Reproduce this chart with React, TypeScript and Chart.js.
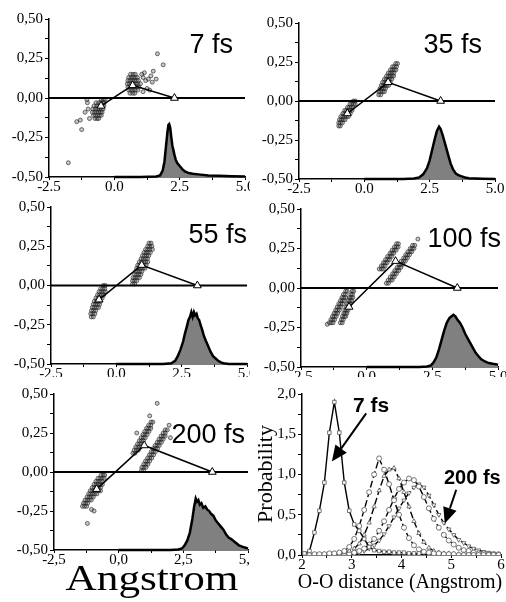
import React, { useEffect, useRef } from "react";
import { Chart, registerables } from "chart.js";
Chart.register(...registerables);

type Pt = [number, number];
// cluster rows: [y, x1, x2, ...]
type Row = number[];

// ---------- Panel 1: 7 fs ----------
const p1Label = "7 fs";
const p1Triangles: Pt[] = [[-0.51, -0.05], [0.7, 0.08], [2.3, 0.0]];
const p1ClusterA: Row[] = [
  [-0.01, -0.5, -0.42, -0.36],
  [-0.03, -0.7, -0.6, -0.52, -0.44, -0.38],
  [-0.05, -0.78, -0.68, -0.6, -0.53, -0.46, -0.4],
  [-0.07, -0.82, -0.72, -0.64, -0.57, -0.5, -0.43],
  [-0.09, -0.84, -0.75, -0.67, -0.6, -0.53, -0.47],
  [-0.11, -0.8, -0.72, -0.64, -0.57, -0.5],
  [-0.13, -0.74, -0.66, -0.6],
  [-0.07, -1.0], [-0.01, -1.05], [-0.13, -0.95], [-0.09, -1.12], [-0.14, -1.3], [-0.15, -1.44], [-0.2, -1.25], [-0.41, -1.76], [-0.03, -1.03],
];
const p1ClusterB: Row[] = [
  [0.15, 0.62, 0.72, 0.8],
  [0.13, 0.55, 0.64, 0.72, 0.8, 0.88],
  [0.11, 0.52, 0.6, 0.68, 0.76, 0.84, 0.92],
  [0.09, 0.5, 0.58, 0.66, 0.74, 0.82, 0.9, 1.0],
  [0.07, 0.52, 0.6, 0.68, 0.76, 0.84, 0.94],
  [0.05, 0.55, 0.63, 0.71, 0.8, 0.9],
  [0.03, 0.6, 0.7, 0.78],
  [0.13, 1.1], [0.11, 1.2], [0.12, 1.3], [0.05, 1.35], [0.1, 1.45], [0.17, 1.49], [0.12, 1.6], [0.28, 1.65], [0.21, 1.87], [0.16, 1.15], [0.06, 1.25], [0.15, 1.05], [0.14, 1.4], [0.04, 1.1],
];
const p1DistX = [0, 1.0, 1.6, 1.75, 1.85, 1.92, 1.98, 2.03, 2.07, 2.1, 2.14, 2.18, 2.22, 2.26, 2.3, 2.35, 2.4, 2.5, 2.6, 2.7, 2.85, 3.0, 3.3, 3.6, 4.0, 4.5, 5.0];
const p1DistY = [-0.5, -0.5, -0.497, -0.49, -0.46, -0.4, -0.3, -0.22, -0.17, -0.165, -0.19, -0.25, -0.3, -0.33, -0.36, -0.39, -0.41, -0.43, -0.45, -0.465, -0.475, -0.48, -0.485, -0.49, -0.492, -0.495, -0.497];

// ---------- Panel 2: 35 fs ----------
const p2Label = "35 fs";
const p2Triangles: Pt[] = [[-0.65, -0.08], [0.91, 0.12], [2.92, 0.0]];
const p2ClusterA: Row[] = [
  [0.0, -0.42, -0.34],
  [-0.02, -0.55, -0.48, -0.41, -0.35],
  [-0.04, -0.64, -0.57, -0.5, -0.43],
  [-0.06, -0.75, -0.68, -0.61, -0.54, -0.47],
  [-0.08, -0.82, -0.75, -0.68, -0.61, -0.54],
  [-0.1, -0.9, -0.82, -0.75, -0.68, -0.61],
  [-0.12, -0.95, -0.88, -0.81, -0.74],
  [-0.14, -0.98, -0.91, -0.84],
  [-0.16, -0.98, -0.92],
];
const p2ClusterB: Row[] = [
  [0.04, 0.55, 0.63],
  [0.06, 0.56, 0.63, 0.7, 0.77],
  [0.08, 0.6, 0.67, 0.74, 0.81],
  [0.1, 0.65, 0.72, 0.79, 0.86, 0.93],
  [0.12, 0.7, 0.78, 0.85, 0.92, 0.99],
  [0.14, 0.77, 0.84, 0.91, 0.98, 1.05],
  [0.16, 0.85, 0.92, 0.99, 1.06, 1.12],
  [0.18, 0.92, 0.99, 1.06, 1.13],
  [0.2, 1.0, 1.07, 1.14, 1.21],
  [0.22, 1.08, 1.15, 1.23],
  [0.24, 1.2, 1.27],
];
const p2DistX = [0, 1.5, 1.9, 2.1, 2.25, 2.4, 2.5, 2.6, 2.7, 2.78, 2.86, 2.92, 3.0, 3.1, 3.2, 3.3, 3.4, 3.5, 3.6, 3.7, 3.85, 4.0, 4.5, 5.0];
const p2DistY = [-0.5, -0.5, -0.497, -0.49, -0.47, -0.43, -0.38, -0.31, -0.24, -0.19, -0.165, -0.18, -0.22, -0.28, -0.34, -0.4, -0.44, -0.465, -0.475, -0.482, -0.49, -0.495, -0.498, -0.5];

// ---------- Panel 3: 55 fs ----------
const p3Label = "55 fs";
const p3Triangles: Pt[] = [[-0.66, -0.09], [0.97, 0.13], [3.1, 0.0]];
const p3ClusterA: Row[] = [
  [0.0, -0.5, -0.42],
  [-0.02, -0.6, -0.52, -0.44],
  [-0.04, -0.66, -0.58, -0.5, -0.42],
  [-0.06, -0.72, -0.64, -0.56, -0.48],
  [-0.08, -0.78, -0.7, -0.62, -0.54],
  [-0.1, -0.84, -0.76, -0.68, -0.6],
  [-0.12, -0.88, -0.8, -0.72, -0.64],
  [-0.14, -0.92, -0.84, -0.76, -0.68],
  [-0.16, -0.95, -0.87, -0.79],
  [-0.18, -0.98, -0.9, -0.82],
  [-0.2, -0.96, -0.88],
];
const p3ClusterB: Row[] = [
  [0.01, 0.62, 0.7],
  [0.03, 0.62, 0.7, 0.78],
  [0.05, 0.64, 0.72, 0.8, 0.88],
  [0.07, 0.7, 0.78, 0.86, 0.94],
  [0.09, 0.74, 0.82, 0.9, 0.98],
  [0.11, 0.78, 0.86, 0.94, 1.02, 1.1],
  [0.13, 0.82, 0.9, 0.98, 1.06, 1.14],
  [0.15, 0.88, 0.96, 1.04, 1.12, 1.2],
  [0.17, 0.95, 1.03, 1.11, 1.19],
  [0.19, 1.0, 1.08, 1.16, 1.24],
  [0.21, 1.06, 1.14, 1.22, 1.3],
  [0.23, 1.12, 1.2, 1.28, 1.38],
  [0.25, 1.2, 1.28, 1.36],
  [0.27, 1.25, 1.33],
];
const p3DistX = [0, 1.8, 2.1, 2.25, 2.35, 2.45, 2.55, 2.62, 2.7, 2.76, 2.82, 2.87, 2.92, 2.97, 3.02, 3.07, 3.12, 3.17, 3.22, 3.28, 3.35, 3.42, 3.5, 3.6, 3.7, 3.8, 3.9, 4.0, 4.1, 4.3, 5.0];
const p3DistY = [-0.5, -0.5, -0.495, -0.48, -0.45, -0.41, -0.36, -0.31, -0.26, -0.22, -0.2, -0.17, -0.2, -0.17, -0.19, -0.18, -0.21, -0.22, -0.25, -0.28, -0.32, -0.35, -0.38, -0.42, -0.45, -0.465, -0.48, -0.49, -0.495, -0.5, -0.5];

// ---------- Panel 4: 100 fs ----------
const p4Label = "100 fs";
const p4Triangles: Pt[] = [[-0.67, -0.12], [1.1, 0.17], [3.45, 0.0]];
const p4ClusterA: Row[] = [
  [-0.22, -1.42, -1.35, -1.28, -1.0, -0.93],
  [-0.2, -1.36, -1.29, -1.22, -0.96, -0.89],
  [-0.18, -1.3, -1.23, -1.16, -0.92, -0.85, -0.8],
  [-0.16, -1.24, -1.17, -1.1, -0.87, -0.81, -0.75],
  [-0.14, -1.18, -1.11, -1.04, -0.83, -0.77, -0.71],
  [-0.12, -1.12, -1.05, -0.98, -0.78, -0.72, -0.66],
  [-0.1, -1.06, -0.99, -0.92, -0.74, -0.68, -0.62],
  [-0.08, -1.0, -0.93, -0.86, -0.69, -0.63, -0.57],
  [-0.06, -0.94, -0.87, -0.8, -0.65, -0.59, -0.53],
  [-0.04, -0.88, -0.81, -0.6, -0.54],
  [-0.02, -0.8, -0.74, -0.55, -0.49],
  [-0.23, -1.5],
];
const p4ClusterB: Row[] = [
  [0.12, 0.48, 0.56, 0.63],
  [0.14, 0.56, 0.63, 0.7],
  [0.16, 0.64, 0.71, 0.78],
  [0.18, 0.72, 0.8, 0.87],
  [0.2, 0.8, 0.88, 0.95],
  [0.22, 0.89, 0.96, 1.03],
  [0.24, 0.97, 1.05, 1.12],
  [0.26, 1.06, 1.13, 1.2],
  [0.28, 1.14, 1.21],
  [0.03, 0.75, 0.83],
  [0.05, 0.82, 0.9, 0.97],
  [0.07, 0.9, 0.98, 1.05],
  [0.09, 0.99, 1.06, 1.13],
  [0.11, 1.07, 1.15, 1.22],
  [0.13, 1.16, 1.23, 1.3],
  [0.15, 1.24, 1.31, 1.38],
  [0.17, 1.32, 1.4, 1.47],
  [0.19, 1.41, 1.48, 1.55],
  [0.21, 1.49, 1.56, 1.63],
  [0.23, 1.57, 1.65, 1.72],
  [0.25, 1.66, 1.73, 1.8],
  [0.27, 1.75, 1.83],
  [0.31, 1.95],
];
const p4DistX = [0, 2.0, 2.3, 2.45, 2.55, 2.65, 2.75, 2.85, 2.95, 3.05, 3.15, 3.22, 3.3, 3.38, 3.45, 3.55, 3.65, 3.75, 3.85, 3.95, 4.05, 4.15, 4.25, 4.35, 4.5, 4.65, 4.8, 5.0];
const p4DistY = [-0.5, -0.5, -0.497, -0.49, -0.47, -0.44, -0.39, -0.33, -0.27, -0.22, -0.19, -0.18, -0.17, -0.18, -0.2, -0.22, -0.25, -0.29, -0.32, -0.35, -0.38, -0.41, -0.43, -0.45, -0.465, -0.475, -0.48, -0.485];

// ---------- Panel 5: 200 fs ----------
const p5Label = "200 fs";
const p5Triangles: Pt[] = [[-0.85, -0.11], [0.99, 0.17], [3.62, 0.0]];
const p5ClusterA: Row[] = [
  [-0.02, -0.68, -0.6, -0.54],
  [-0.04, -0.8, -0.72, -0.64, -0.56],
  [-0.06, -0.88, -0.8, -0.72, -0.64],
  [-0.08, -0.95, -0.87, -0.79, -0.71, -0.63],
  [-0.1, -1.02, -0.94, -0.86, -0.78, -0.7],
  [-0.12, -1.1, -1.02, -0.94, -0.86, -0.78],
  [-0.14, -1.16, -1.08, -1.0, -0.92, -0.84],
  [-0.16, -1.22, -1.14, -1.06, -0.98],
  [-0.18, -1.3, -1.22, -1.14, -1.06],
  [-0.2, -1.36, -1.28, -1.2],
  [-0.22, -1.4, -1.32, -1.24],
  [-0.33, -1.21], [-0.25, -0.95], [-0.24, -1.05], [-0.12, -0.7],
];
const p5ClusterB: Row[] = [
  [0.12, 0.55, 0.63],
  [0.14, 0.6, 0.68, 0.76],
  [0.16, 0.66, 0.74, 0.82],
  [0.18, 0.73, 0.81, 0.89],
  [0.2, 0.8, 0.88, 0.96],
  [0.22, 0.87, 0.95, 1.03],
  [0.24, 0.94, 1.02, 1.1],
  [0.26, 1.01, 1.09, 1.17],
  [0.28, 1.08, 1.16, 1.24],
  [0.3, 1.16, 1.24],
  [0.32, 1.25, 1.32],
  [0.01, 0.88, 0.96],
  [0.03, 0.9, 0.98, 1.06],
  [0.05, 0.97, 1.05, 1.13],
  [0.07, 1.04, 1.12, 1.2],
  [0.09, 1.12, 1.2, 1.28],
  [0.11, 1.19, 1.27, 1.35],
  [0.13, 1.26, 1.34, 1.42],
  [0.15, 1.34, 1.42, 1.5],
  [0.17, 1.41, 1.49, 1.57],
  [0.19, 1.49, 1.57, 1.65],
  [0.21, 1.56, 1.64, 1.72],
  [0.23, 1.64, 1.72, 1.8],
  [0.25, 1.72, 1.8],
  [0.27, 1.8, 1.88],
  [0.44, 1.49], [0.22, 2.0], [0.3, 1.95], [0.36, 1.2], [0.25, 0.7],
];
const p5DistX = [0, 2.0, 2.3, 2.45, 2.55, 2.65, 2.75, 2.85, 2.92, 2.98, 3.03, 3.08, 3.14, 3.2, 3.27, 3.35, 3.42, 3.5, 3.58, 3.66, 3.75, 3.85, 3.95, 4.05, 4.15, 4.25, 4.35, 4.5, 4.65, 4.8, 5.0];
const p5DistY = [-0.5, -0.5, -0.497, -0.49, -0.47, -0.44, -0.39, -0.3, -0.22, -0.17, -0.19, -0.18, -0.21, -0.2, -0.23, -0.22, -0.24, -0.25, -0.27, -0.28, -0.31, -0.33, -0.35, -0.37, -0.4, -0.42, -0.43, -0.45, -0.47, -0.48, -0.49];

// ---------- Panel 6: O-O distance probability ----------
const probX = [2.05,2.15,2.25,2.35,2.45,2.55,2.65,2.75,2.85,2.95,3.05,3.15,3.25,3.35,3.45,3.55,3.65,3.75,3.85,3.95,4.05,4.15,4.25,4.35,4.45,4.55,4.65,4.75,4.85,4.95,5.05,5.15,5.25,5.35,5.45,5.55,5.65,5.75,5.85,5.95];
const prob7fs = [0.02,0.05,0.28,0.55,0.9,1.52,1.9,1.52,0.9,0.55,0.38,0.3,0.2,0.1,0.06,0.05,0.04,0.04,0.03,0.03,0.03,0.02,0.02,0.02];
const prob35fs = [0,0,0.01,0.01,0.01,0.02,0.02,0.03,0.05,0.1,0.2,0.36,0.56,0.78,1.0,1.2,1.06,0.88,0.68,0.5,0.34,0.21,0.12,0.07,0.04,0.03,0.02,0.02,0.01,0.01,0.01,0,0,0,0,0,0,0,0,0];
const prob55fs = [0,0,0,0,0.01,0.01,0.01,0.02,0.03,0.05,0.08,0.14,0.25,0.4,0.6,0.8,0.98,1.06,1.08,0.95,0.78,0.6,0.42,0.27,0.16,0.09,0.05,0.03,0.02,0.02,0.01,0.01,0.01,0,0,0,0,0,0,0];
const prob100fs = [0,0,0,0,0,0,0.01,0.01,0.01,0.02,0.03,0.05,0.08,0.13,0.2,0.3,0.42,0.56,0.7,0.82,0.9,0.95,0.93,0.85,0.72,0.58,0.45,0.34,0.25,0.18,0.13,0.09,0.06,0.05,0.03,0.02,0.02,0.01,0.01,0.01];
const prob200fs = [0,0,0,0,0,0,0,0.01,0.01,0.01,0.02,0.03,0.05,0.08,0.12,0.18,0.26,0.36,0.47,0.58,0.68,0.77,0.84,0.88,0.84,0.74,0.62,0.5,0.4,0.32,0.25,0.19,0.15,0.11,0.08,0.06,0.04,0.03,0.02,0.01];
const probTickX = [2, 3, 4, 5, 6];

// ---------- layout (page coordinates) ----------
type Layout = { left: number; top: number; width: number; height: number; ca: [number, number, number, number] };
type TextItem = { text: string; x: number; y: number; font: string; align?: CanvasTextAlign; baseline?: CanvasTextBaseline; rotate?: number; sx?: number };
type Arrow = { from: Pt; to: Pt };

const L1: Layout = { left: 0, top: 0, width: 280, height: 200, ca: [49, 19, 245, 177] };
const L2: Layout = { left: 250, top: 0, width: 280, height: 200, ca: [299, 23, 495, 179] };
const L3: Layout = { left: 0, top: 195, width: 280, height: 205, ca: [51, 207, 247, 364] };
const L4: Layout = { left: 250, top: 195, width: 280, height: 205, ca: [301, 209, 498, 367] };
const L5: Layout = { left: 0, top: 377, width: 280, height: 225, ca: [54, 394, 248, 550] };
const L6: Layout = { left: 250, top: 377, width: 280, height: 225, ca: [302, 394, 501, 555] };

const SERIF = "'Liberation Serif', 'Times New Roman', serif";
const SANS = "'Liberation Sans', Arial, sans-serif";

function overlayPlugin(layout: Layout, texts: TextItem[], arrows: Arrow[] = []) {
  return {
    id: "overlay",
    afterDraw(chart: any) {
      const ctx: CanvasRenderingContext2D = chart.ctx;
      ctx.save();
      for (const t of texts) {
        ctx.save();
        ctx.translate(t.x - layout.left, t.y - layout.top);
        if (t.rotate) ctx.rotate(t.rotate);
        if (t.sx) ctx.scale(t.sx, 1);
        ctx.font = t.font;
        ctx.fillStyle = "#000";
        ctx.textAlign = t.align || "left";
        ctx.textBaseline = t.baseline || "alphabetic";
        ctx.fillText(t.text, 0, 0);
        ctx.restore();
      }
      const xs = chart.scales.x, ys = chart.scales.y;
      for (const a of arrows) {
        const x1 = xs.getPixelForValue(a.from[0]), y1 = ys.getPixelForValue(a.from[1]);
        const x2 = xs.getPixelForValue(a.to[0]), y2 = ys.getPixelForValue(a.to[1]);
        const ang = Math.atan2(y2 - y1, x2 - x1);
        const head = 16, half = 7;
        const bx = x2 - head * Math.cos(ang), by = y2 - head * Math.sin(ang);
        ctx.strokeStyle = "#000";
        ctx.lineWidth = 2;
        ctx.beginPath();
        ctx.moveTo(x1, y1);
        ctx.lineTo(bx, by);
        ctx.stroke();
        ctx.fillStyle = "#000";
        ctx.beginPath();
        ctx.moveTo(x2, y2);
        ctx.lineTo(bx + half * Math.sin(ang), by - half * Math.cos(ang));
        ctx.lineTo(bx - half * Math.sin(ang), by + half * Math.cos(ang));
        ctx.closePath();
        ctx.fill();
      }
      ctx.restore();
    },
  };
}

function baseOptions(layout: Layout, x: any, y: any) {
  const [caL, caT, caR, caB] = layout.ca;
  const yW = caL - layout.left;
  const xH = layout.top + layout.height - caB;
  const tickFont = { family: SERIF, size: 15 };
  return {
    responsive: false,
    animation: false,
    events: [],
    layout: { padding: { left: 0, top: caT - layout.top, right: layout.left + layout.width - caR, bottom: 0 } },
    plugins: { legend: { display: false }, tooltip: { enabled: false } },
    scales: {
      x: {
        type: "linear",
        ...x,
        afterFit: (s: any) => { s.height = xH; },
        border: { display: true, color: "#000", width: 1.5 },
        grid: { display: true, drawOnChartArea: false, drawTicks: true, tickLength: 3, tickColor: "#000", tickWidth: 1 },
        ticks: { ...x.ticks, font: tickFont, color: "#000", padding: -2, autoSkip: false, maxRotation: 0 },
      },
      y: {
        type: "linear",
        ...y,
        afterFit: (s: any) => { s.width = yW; },
        border: { display: true, color: "#000", width: 1.5 },
        grid: { display: true, drawOnChartArea: false, drawTicks: true, tickLength: 4, tickColor: "#000", tickWidth: 1 },
        ticks: { ...y.ticks, font: tickFont, color: "#000", padding: 2, autoSkip: false },
      },
    },
  };
}

const toPts = (arr: Pt[]) => arr.map(([x, y]) => ({ x, y }));
const rowsToPts = (rows: Row[]) => rows.flatMap(([y, ...xs]) => xs.map((x) => ({ x, y })));
const zip = (xs: number[], ys: number[]) => ys.map((y, i) => ({ x: xs[i], y }));
const isMult = (v: number, m: number) => Math.abs(v / m - Math.round(v / m)) < 1e-6;

function scatterPanel(layout: Layout, label: string, labelPos: Pt, tri: Pt[], cA: Row[], cB: Row[], dx: number[], dy: number[], dec: string, extraTexts: TextItem[] = []) {
  const cluster = (rows: Row[]) => ({
    type: "scatter",
    data: rowsToPts(rows),
    pointStyle: "circle",
    pointRadius: 2.0,
    pointBorderWidth: 0.8,
    pointBorderColor: "rgba(35,35,35,0.8)",
    pointBackgroundColor: "rgba(70,70,70,0.3)",
  });
  const texts: TextItem[] = [
    { text: label, x: labelPos[0], y: labelPos[1], font: `27px ${SANS}`, align: "right" },
    ...extraTexts,
  ];
  return {
    type: "scatter",
    data: {
      datasets: [
        {
          type: "line",
          data: toPts(tri),
          borderColor: "#000",
          borderWidth: 1.5,
          pointStyle: "triangle",
          pointRadius: 4.5,
          pointBackgroundColor: "#fff",
          pointBorderColor: "#000",
          pointBorderWidth: 1,
          tension: 0,
          fill: false,
        },
        {
          type: "line",
          data: [{ x: -2.5, y: 0 }, { x: 5, y: 0 }],
          borderColor: "#000",
          borderWidth: 1.8,
          pointRadius: 0,
          fill: false,
        },
        cluster(cA),
        cluster(cB),
        {
          type: "line",
          data: zip(dx, dy),
          borderColor: "#000",
          borderWidth: 2.5,
          backgroundColor: "#808080",
          fill: "start",
          pointRadius: 0,
          tension: 0,
          clip: 3,
        },
      ],
    },
    options: baseOptions(
      layout,
      { min: -2.5, max: 5, ticks: { stepSize: 1.25, callback: (v: number) => (isMult(v, 2.5) ? v.toFixed(1).replace(".", dec) : "") } },
      { min: -0.5, max: 0.5, ticks: { stepSize: 0.125, callback: (v: number) => (isMult(v, 0.25) ? v.toFixed(2).replace(".", ",") : "") } }
    ),
    plugins: [overlayPlugin(layout, texts)],
  };
}

function probPanel(layout: Layout) {
  const series = (ys: number[], style: string, dashed: boolean, rot = 0) => ({
    type: "line",
    data: zip(probX, ys),
    borderColor: "#000",
    borderWidth: 1.4,
    borderDash: dashed ? [7, 3] : [],
    pointStyle: style,
    pointRotation: rot,
    pointRadius: 2.5,
    pointBorderWidth: 0.8,
    pointBorderColor: "#555",
    pointBackgroundColor: "#fff",
    tension: 0,
    fill: false,
  });
  const texts: TextItem[] = [
    { text: "Probability", x: 266, y: 474, font: `22px ${SERIF}`, align: "center", baseline: "middle", rotate: -Math.PI / 2 },
    { text: "O-O distance (Angstrom)", x: 400, y: 588, font: `20px ${SERIF}`, align: "center" },
    { text: "7 fs", x: 353, y: 412, font: `bold 21px ${SANS}`, align: "left" },
    { text: "200 fs", x: 444, y: 484, font: `bold 20px ${SANS}`, align: "left" },
  ];
  const arrows: Arrow[] = [
    { from: [3.29, 1.76], to: [2.6, 1.16] },
    { from: [5.1, 0.81], to: [4.87, 0.39] },
  ];
  return {
    type: "scatter",
    data: {
      datasets: [
        series(prob7fs, "rect", false),
        series(prob35fs, "circle", true),
        series(prob55fs, "triangle", true),
        series(prob100fs, "circle", true),
        series(prob200fs, "triangle", true, 180),
      ],
    },
    options: baseOptions(
      layout,
      { min: 2, max: 6, ticks: { stepSize: 0.5, callback: (v: number) => (probTickX.some((t) => Math.abs(t - v) < 1e-6) ? String(v) : "") } },
      { min: 0, max: 2, ticks: { stepSize: 0.25, callback: (v: number) => (isMult(v, 0.5) ? v.toFixed(1).replace(".", ",") : "") } }
    ),
    plugins: [overlayPlugin(layout, texts, arrows)],
  };
}

function ChartCanvas({ layout, build }: { layout: Layout; build: () => any }) {
  const ref = useRef<HTMLCanvasElement>(null);
  useEffect(() => {
    const chart = new Chart(ref.current as HTMLCanvasElement, build());
    return () => chart.destroy();
  }, []);
  return (
    <canvas
      ref={ref}
      width={layout.width}
      height={layout.height}
      style={{ position: "absolute", left: layout.left, top: layout.top, width: layout.width, height: layout.height, background: "#fff" }}
    />
  );
}

export default function App() {
  return (
    <div style={{ position: "absolute", left: 0, top: 0, width: 506, height: 602, overflow: "hidden", background: "#fff" }}>
      <ChartCanvas layout={L1} build={() => scatterPanel(L1, p1Label, [233, 53], p1Triangles, p1ClusterA, p1ClusterB, p1DistX, p1DistY, ".")} />
      <ChartCanvas layout={L2} build={() => scatterPanel(L2, p2Label, [482, 53], p2Triangles, p2ClusterA, p2ClusterB, p2DistX, p2DistY, ".")} />
      <ChartCanvas layout={L3} build={() => scatterPanel(L3, p3Label, [247, 243], p3Triangles, p3ClusterA, p3ClusterB, p3DistX, p3DistY, ".")} />
      <ChartCanvas layout={L4} build={() => scatterPanel(L4, p4Label, [501, 247], p4Triangles, p4ClusterA, p4ClusterB, p4DistX, p4DistY, ".")} />
      <ChartCanvas
        layout={L5}
        build={() =>
          scatterPanel(L5, p5Label, [245, 443], p5Triangles, p5ClusterA, p5ClusterB, p5DistX, p5DistY, ",", [
            { text: "Angstrom", x: 152, y: 590, font: `36px ${SERIF}`, align: "center", sx: 1.2 },
          ])
        }
      />
      <ChartCanvas layout={L6} build={() => probPanel(L6)} />
    </div>
  );
}
